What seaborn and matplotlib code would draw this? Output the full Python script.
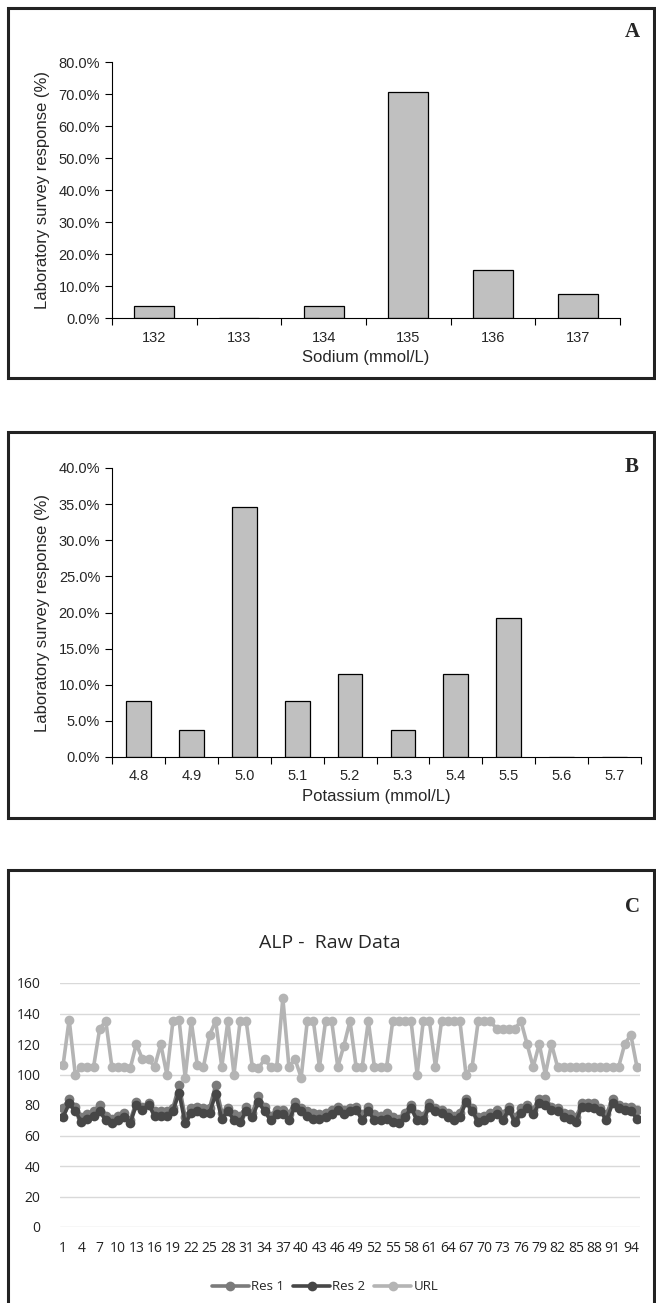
import numpy as np
import pandas as pd
import matplotlib
matplotlib.use("Agg")
import matplotlib.pyplot as plt
from matplotlib.patches import Rectangle
from matplotlib.ticker import PercentFormatter, FixedLocator
import seaborn as sns

# Panel A - sodium
sodium_levels = ["132", "133", "134", "135", "136", "137"]
sodium_pct = [3.8, 0.0, 3.8, 70.6, 15.1, 7.5]

# Panel B - potassium
potassium_levels = ["4.8", "4.9", "5.0", "5.1", "5.2", "5.3", "5.4", "5.5", "5.6", "5.7"]
potassium_pct = [7.7, 3.8, 34.6, 7.7, 11.5, 3.8, 11.5, 19.2, 0.0, 0.0]

# Panel C - ALP raw data
alp_sample = list(range(1, 96))
alp_res1 = [78, 84, 79, 72, 74, 76, 80, 73, 71, 73, 75, 70, 82, 79, 81, 76, 76, 76, 78, 93,
            72, 78, 79, 78, 78, 93, 75, 78, 74, 73, 79, 75, 86, 79, 73, 77, 77, 74, 82, 78,
            76, 75, 74, 75, 77, 79, 77, 78, 79, 74, 79, 74, 73, 75, 72, 71, 75, 80, 74, 73,
            81, 78, 77, 75, 73, 75, 84, 78, 72, 73, 75, 77, 74, 79, 72, 78, 80, 77, 84, 84,
            79, 78, 75, 74, 72, 81, 81, 81, 78, 74, 84, 80, 79, 79, 77]
alp_res2 = [72, 81, 76, 69, 71, 73, 76, 70, 68, 70, 72, 68, 80, 77, 80, 73, 73, 73, 76, 88,
            68, 75, 76, 75, 75, 87, 71, 76, 70, 69, 76, 72, 82, 76, 70, 74, 74, 70, 79, 76,
            73, 71, 71, 72, 74, 77, 74, 76, 77, 70, 76, 70, 70, 71, 69, 68, 72, 78, 70, 70,
            79, 76, 75, 72, 70, 72, 82, 76, 69, 70, 72, 74, 70, 77, 69, 75, 78, 74, 81, 80,
            77, 76, 72, 71, 69, 79, 79, 78, 76, 70, 81, 78, 77, 76, 71]
alp_url = [106, 136, 100, 105, 105, 105, 130, 135, 105, 105, 105, 104, 120, 110, 110, 105, 120, 100, 135, 136,
           98, 135, 106, 105, 126, 135, 105, 135, 100, 135, 135, 105, 104, 110, 105, 105, 150, 105, 110, 98,
           135, 135, 105, 135, 135, 105, 119, 135, 105, 105, 135, 105, 105, 105, 135, 135, 135, 135, 100, 135,
           135, 105, 135, 135, 135, 135, 100, 105, 135, 135, 135, 130, 130, 130, 130, 135, 120, 105, 120, 100,
           120, 105, 105, 105, 105, 105, 105, 105, 105, 105, 105, 105, 120, 126, 105]
alp_ticks = list(range(1, 96, 3))

W, H = 656, 1303

sns.set_theme(style="white")
plt.rcParams["font.family"] = ["Liberation Sans", "DejaVu Sans"]

fig = plt.figure(figsize=(W / 100, H / 100), dpi=100)


def px_rect(x0, y0, x1, y1):
    # pixel box (top-left origin) -> figure fraction rect
    return [x0 / W, 1 - y1 / H, (x1 - x0) / W, (y1 - y0) / H]


def frame(x0, y0, x1, y1):
    fig.add_artist(Rectangle((x0 / W, 1 - y1 / H), (x1 - x0) / W, (y1 - y0) / H,
                             transform=fig.transFigure, fill=False,
                             edgecolor="#222222", linewidth=2.2))


def bar_panel(rect, levels, pct, ymax, step, xlabel, letter, letter_y):
    ax = fig.add_axes(rect)
    sns.barplot(x=levels, y=pct, color="#c0c0c0", edgecolor="black",
                linewidth=0.9, width=0.47, saturation=1, ax=ax)
    n = len(levels)
    ax.set_xlim(-0.5, n - 0.5)
    ax.set_ylim(0, ymax)
    ax.yaxis.set_major_locator(FixedLocator(np.arange(0, ymax + 0.1, step)))
    ax.yaxis.set_major_formatter(PercentFormatter(decimals=1))
    ax.xaxis.set_minor_locator(FixedLocator(np.arange(-0.5, n, 1.0)))
    ax.tick_params(axis="x", which="major", length=0, pad=9, labelsize=10.5)
    ax.tick_params(axis="x", which="minor", length=5, width=0.8, color="black", direction="out", bottom=True)
    ax.tick_params(axis="y", length=5, width=0.8, color="black", direction="out", left=True, labelsize=10.5)
    for s in ["top", "right"]:
        ax.spines[s].set_visible(False)
    for s in ["left", "bottom"]:
        ax.spines[s].set_color("black")
        ax.spines[s].set_linewidth(0.8)
    ax.set_xlabel(xlabel, fontsize=12, labelpad=4)
    ax.set_ylabel("Laboratory survey response (%)", fontsize=12, labelpad=6)
    fig.text(632 / W, 1 - letter_y / H, letter, fontsize=15, fontweight="bold",
             family="Liberation Serif", ha="center", va="center")
    return ax


# Panel A
frame(8, 8, 654, 378)
bar_panel(px_rect(112, 62, 620, 318), sodium_levels, sodium_pct, 80, 10,
          "Sodium (mmol/L)", "A", 32)

# Panel B
frame(8, 432, 654, 818)
bar_panel(px_rect(112, 468, 641, 757), potassium_levels, potassium_pct, 40, 5,
          "Potassium (mmol/L)", "B", 467)

# Panel C
frame(8, 870, 654, 1320)
axc = fig.add_axes(px_rect(60, 983, 640, 1227))
df = pd.DataFrame({"sample": alp_sample, "Res 1": alp_res1, "Res 2": alp_res2, "URL": alp_url})
series_colors = {"Res 1": "#7b7b7b", "Res 2": "#474747", "URL": "#b4b4b4"}
for name in ["Res 1", "Res 2", "URL"]:
    sns.lineplot(data=df, x="sample", y=name, color=series_colors[name], linewidth=2.6,
                 marker="o", markersize=7, markeredgewidth=0, label=name, ax=axc)
axc.set_xlim(0.5, 95.5)
axc.set_ylim(0, 160)
axc.set_yticks(range(0, 161, 20))
axc.set_xticks(alp_ticks)
axc.set_xticklabels([str(t) for t in alp_ticks])
axc.grid(axis="y", color="#d9d9d9", linewidth=1)
axc.grid(axis="x", visible=False)
for s in axc.spines.values():
    s.set_visible(False)
axc.tick_params(axis="both", length=0, labelsize=10, labelcolor="#222222")
for lab in axc.get_xticklabels() + axc.get_yticklabels():
    lab.set_family(["Open Sans", "DejaVu Sans"])
axc.tick_params(axis="x", pad=10)
axc.tick_params(axis="y", pad=14)
axc.set_xlabel("")
axc.set_ylabel("")
axc.legend_.remove()
handles, labels = axc.get_legend_handles_labels()
fig.legend(handles, labels, loc="center", bbox_to_anchor=(325 / W, 1 - 1287 / H), ncol=3,
           frameon=False, handlelength=2.8, handletextpad=0.15, columnspacing=0.7,
           prop={"family": ["Open Sans", "DejaVu Sans"], "size": 9.5})
fig.text(330 / W, 1 - 943 / H, "ALP -  Raw Data", fontsize=14, ha="center", va="center",
         family=["Open Sans", "DejaVu Sans"])
fig.text(632 / W, 1 - 907 / H, "C", fontsize=15, fontweight="bold",
         family="Liberation Serif", ha="center", va="center")

fig.savefig("out.png", dpi=100)
